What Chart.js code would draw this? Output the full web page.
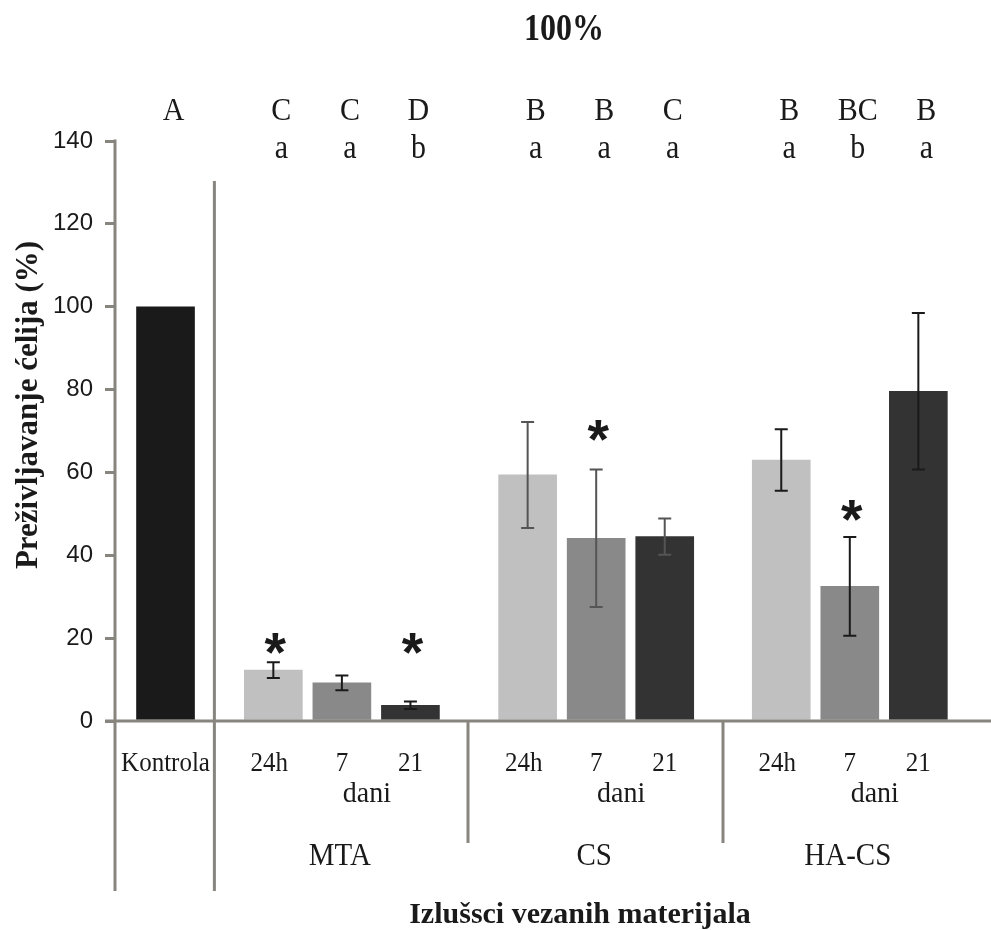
<!DOCTYPE html>
<html>
<head>
<meta charset="utf-8">
<script src="https://cdn.jsdelivr.net/npm/chart.js@4/dist/chart.umd.min.js"></script>
<style>
  html, body { margin: 0; padding: 0; background: #ffffff; }
  #wrap { width: 991px; height: 930px; }
  canvas { display: block; }
</style>
</head>
<body>
<div id="wrap"><canvas id="chart" width="991" height="930"></canvas></div>
<script>
// ---- data: cell survival (%) after exposure to extracts ----
const controlLabel = 'Kontrola';
const controlValue = 100;
const controlLetter = 'A';

const groups = ['MTA', 'CS', 'HA-CS'];
const periods = ['24h', '7', '21'];
const periodUnit = 'dani';

const mtaValues  = [12.3, 9.2, 3.8];
const mtaErrors  = [1.9, 1.8, 0.9];
const csValues   = [59.4, 44.1, 44.5];
const csErrors   = [12.8, 16.6, 4.4];
const hacsValues = [63.0, 32.5, 79.6];
const hacsErrors = [7.4, 11.9, 18.9];

// statistical grouping letters
const mtaUpper  = ['C', 'C', 'D'];
const mtaLower  = ['a', 'a', 'b'];
const csUpper   = ['B', 'B', 'C'];
const csLower   = ['a', 'a', 'a'];
const hacsUpper = ['B', 'BC', 'B'];
const hacsLower = ['a', 'b', 'a'];

// height (in %) at which significance asterisks sit
const mtaStars  = [18.8, null, 18.8];
const csStars   = [null, 70.2, null];
const hacsStars = [null, 50.9, null];

const yTicks = [0, 20, 40, 60, 80, 100, 120, 140];

const chartTitle = '100%';
const yTitle = 'Preživljavanje ćelija (%)';
const xTitle = 'Izlušsci vezanih materijala';

// ---- layout (x in bar-slot units) ----
const controlPos = 0.737;
const groupStart = [2.31, 6.02, 9.72];
const slotStep = 1;
const xMax = 12.78;
const dividerPos = [1.45, 5.15, 8.87];

// ---- styles ----
const axisColor = '#88847e';
const textColor = '#1a1a1a';
const controlColor = '#1a1a1a';
const periodColors = ['#c0c0c0', '#898989', '#333333'];
const groupErrColors = ['#1a1a1a', '#555555', '#1a1a1a'];
const serif = '"Liberation Serif", "Times New Roman", serif';
const sans = '"Liberation Sans", Arial, sans-serif';

// ---- assemble bar table ----
const seriesValues = [mtaValues, csValues, hacsValues];
const seriesErrors = [mtaErrors, csErrors, hacsErrors];
const seriesUpper = [mtaUpper, csUpper, hacsUpper];
const seriesLower = [mtaLower, csLower, hacsLower];
const seriesStars = [mtaStars, csStars, hacsStars];

const points = [{ x: controlPos, y: controlValue }];
const colors = [controlColor];
const errors = [null];
const errColors = [null];
const upper = [controlLetter];
const lower = [null];
const stars = [null];
const tickText = [controlLabel];
groups.forEach((g, gi) => {
  periods.forEach((p, pi) => {
    points.push({ x: groupStart[gi] + pi * slotStep, y: seriesValues[gi][pi] });
    colors.push(periodColors[pi]);
    errors.push(seriesErrors[gi][pi]);
    errColors.push(groupErrColors[gi]);
    upper.push(seriesUpper[gi][pi]);
    lower.push(seriesLower[gi][pi]);
    stars.push(seriesStars[gi][pi]);
    tickText.push(p);
  });
});

function drawText(ctx, s, x, y, font, opts = {}) {
  ctx.save();
  ctx.font = font;
  ctx.fillStyle = opts.color || textColor;
  ctx.textAlign = opts.align || 'center';
  ctx.textBaseline = opts.baseline || 'alphabetic';
  ctx.translate(x, y);
  if (opts.rotate) ctx.rotate(opts.rotate);
  ctx.scale(opts.sx || 1, opts.sy || 1);
  ctx.fillText(s, 0, 0);
  ctx.restore();
}

const decorations = {
  id: 'decorations',
  afterDatasetsDraw(chart) {
    const ctx = chart.ctx;
    const xs = chart.scales.x;
    const ys = chart.scales.y;
    const area = chart.chartArea;
    const y0 = ys.getPixelForValue(0);
    const yTop = ys.getPixelForValue(yTicks[yTicks.length - 1]);
    const bottomLine = 891;
    const groupLineEnd = 843;

    // axis and divider lines
    ctx.save();
    ctx.strokeStyle = axisColor;
    ctx.lineWidth = 3;
    ctx.lineCap = 'butt';
    ctx.beginPath();
    ctx.moveTo(area.left, yTop - 1.5);
    ctx.lineTo(area.left, bottomLine);
    ctx.moveTo(area.left - 10, y0);
    ctx.lineTo(area.right, y0);
    const d0 = xs.getPixelForValue(dividerPos[0]);
    ctx.moveTo(d0, 181);
    ctx.lineTo(d0, bottomLine);
    for (let i = 1; i < dividerPos.length; i++) {
      const d = xs.getPixelForValue(dividerPos[i]);
      ctx.moveTo(d, y0);
      ctx.lineTo(d, groupLineEnd);
    }
    ctx.stroke();
    ctx.restore();

    const bars = chart.getDatasetMeta(0).data;

    // error bars
    bars.forEach((bar, i) => {
      if (errors[i] == null) return;
      const v = points[i].y;
      const yHi = ys.getPixelForValue(v + errors[i]);
      const yLo = ys.getPixelForValue(v - errors[i]);
      ctx.save();
      ctx.strokeStyle = errColors[i];
      ctx.lineWidth = 2;
      ctx.beginPath();
      ctx.moveTo(bar.x, yHi);
      ctx.lineTo(bar.x, yLo);
      ctx.moveTo(bar.x - 6.5, yHi);
      ctx.lineTo(bar.x + 6.5, yHi);
      ctx.moveTo(bar.x - 6.5, yLo);
      ctx.lineTo(bar.x + 6.5, yLo);
      ctx.stroke();
      ctx.restore();
    });

    // asterisks
    ctx.save();
    ctx.font = 'bold 100px ' + sans;
    const m = ctx.measureText('*');
    const h100 = m.actualBoundingBoxAscent + m.actualBoundingBoxDescent;
    const starSize = 100 * 21 / h100;
    ctx.restore();
    bars.forEach((bar, i) => {
      if (stars[i] == null) return;
      ctx.save();
      ctx.font = 'bold ' + starSize + 'px ' + sans;
      const mm = ctx.measureText('*');
      const cy = ys.getPixelForValue(stars[i]);
      const base = cy + (mm.actualBoundingBoxAscent - mm.actualBoundingBoxDescent) / 2;
      ctx.fillStyle = textColor;
      ctx.textAlign = 'center';
      ctx.textBaseline = 'alphabetic';
      ctx.fillText('*', bar.x + 2, base);
      ctx.restore();
    });

    // grouping letters above the plot
    bars.forEach((bar, i) => {
      drawText(ctx, upper[i], bar.x + 8, 120, '30px ' + serif, { sy: 1.05 });
      if (lower[i]) drawText(ctx, lower[i], bar.x + 8, 158, '30px ' + serif, { sy: 1.1 });
    });

    // category labels under the bars
    bars.forEach((bar, i) => {
      const off = i === 0 ? 0 : (tickText[i] === '24h' ? -4 : 0);
      drawText(ctx, tickText[i], bar.x + off, 771, '25px ' + serif, { sy: 1.08 });
    });
    groups.forEach((g, gi) => {
      const mid = xs.getPixelForValue(groupStart[gi] + slotStep);
      drawText(ctx, periodUnit, mid + 25, 802, '28px ' + serif, { sy: 1.05 });
      drawText(ctx, g, mid - 2, 865, '29px ' + serif, { sy: 1.12 });
    });

    // titles
    drawText(ctx, chartTitle, 564, 40, 'bold 32px ' + serif, { sy: 1.2 });
    drawText(ctx, xTitle, 580, 923, 'bold 30px ' + serif);
    drawText(ctx, yTitle, 37, 405, 'bold 31px ' + serif, { rotate: -Math.PI / 2 });
  }
};

new Chart(document.getElementById('chart'), {
  type: 'bar',
  data: {
    datasets: [{
      data: points,
      backgroundColor: colors,
      borderWidth: 0,
      barThickness: 58
    }]
  },
  options: {
    responsive: false,
    animation: false,
    layout: { padding: { left: 0, right: 0, top: 141, bottom: 209 } },
    plugins: { legend: { display: false }, tooltip: { enabled: false } },
    scales: {
      x: { type: 'linear', min: 0, max: xMax, offset: false, display: false },
      y: {
        min: 0,
        max: 140,
        afterBuildTicks(scale) { scale.ticks = yTicks.map(v => ({ value: v })); },
        ticks: { font: { family: sans, size: 24 }, color: textColor, padding: 12 },
        grid: { drawOnChartArea: false, drawTicks: true, tickLength: 10, color: axisColor, lineWidth: 3 },
        border: { display: false },
        afterFit(scale) { scale.width = 115; }
      }
    }
  },
  plugins: [decorations]
});
</script>
</body>
</html>
